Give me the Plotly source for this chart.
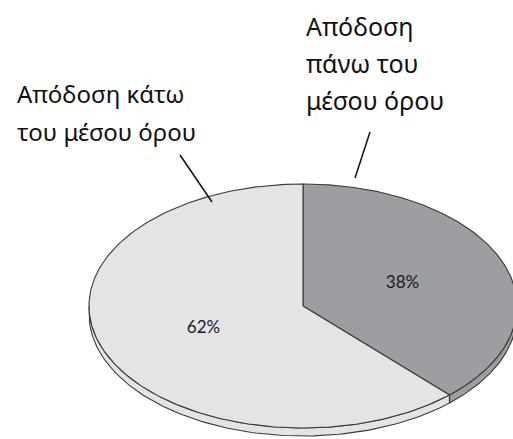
import numpy as np
import plotly.graph_objects as go

# Pie data: performance relative to the average
categories = ["Απόδοση πάνω του μέσου όρου", "Απόδοση κάτω του μέσου όρου"]
shares = [38, 62]
pct_labels = ["38%", "62%"]
slice_colors = ["#9d9ea2", "#e4e4e6"]

# Callout label text, one entry per line
label_above_lines = ["Απόδοση", "πάνω του", "μέσου όρου"]
label_below_lines = ["Απόδοση κάτω", "του μέσου όρου"]

# Tilted-disc geometry (pixel units of the canvas)
W, H = 513, 439
CX, CY = 303, 306
RX, RY = 214, 122
DEPTH = 8
EDGE = "#3a3a3a"


def ell(phi, r=1.0, dy=0.0):
    """Point on the tilted disc; phi measured clockwise from 12 o'clock."""
    return CX + RX * r * np.sin(phi), CY - RY * r * np.cos(phi) + dy


fracs = np.array(shares, dtype=float) / sum(shares)
bounds = np.concatenate([[0.0], np.cumsum(fracs)]) * 2 * np.pi

fig = go.Figure()

# Side wall: only the front half (pi/2 .. 3pi/2) is visible
for i in range(len(shares)):
    a0 = max(bounds[i], np.pi / 2)
    a1 = min(bounds[i + 1], 3 * np.pi / 2)
    if a1 <= a0:
        continue
    ph = np.linspace(a0, a1, 120)
    xt, yt = ell(ph)
    xb, yb = ell(ph[::-1], dy=DEPTH)
    fig.add_trace(go.Scatter(
        x=np.concatenate([xt, xb, xt[:1]]), y=np.concatenate([yt, yb, yt[:1]]),
        mode="lines", fill="toself", fillcolor=slice_colors[i],
        line=dict(color=EDGE, width=1.1), hoverinfo="skip"))

# Vertical seams on the wall where slices meet in front
for b in bounds[1:-1]:
    if np.pi / 2 < b < 3 * np.pi / 2:
        x0, y0 = ell(b)
        fig.add_trace(go.Scatter(x=[x0, x0], y=[y0, y0 + DEPTH], mode="lines",
                                 line=dict(color=EDGE, width=1.1), hoverinfo="skip"))

# Top face slices
for i in range(len(shares)):
    ph = np.linspace(bounds[i], bounds[i + 1], 240)
    xs, ys = ell(ph)
    fig.add_trace(go.Scatter(
        x=np.concatenate([[CX], xs, [CX]]), y=np.concatenate([[CY], ys, [CY]]),
        mode="lines", fill="toself", fillcolor=slice_colors[i],
        line=dict(color=EDGE, width=1.1), name=categories[i], hoverinfo="skip"))

# Percentage labels at the middle of each slice
mids = (bounds[:-1] + bounds[1:]) / 2
lx, ly = ell(mids, r=0.5)
fig.add_trace(go.Scatter(
    x=lx, y=ly, mode="text", text=pct_labels,
    textfont=dict(family="Lato", size=17, color="#1a1a1a"), hoverinfo="skip"))

annotations = []
for k, line in enumerate(label_above_lines):
    annotations.append(dict(x=304, y=26 + 37 * k, text=line, showarrow=False,
                            xanchor="left", yanchor="middle",
                            font=dict(family="Noto Sans", size=25, color="#111111")))
for k, line in enumerate(label_below_lines):
    annotations.append(dict(x=15, y=93 + 38 * k, text=line, showarrow=False,
                            xanchor="left", yanchor="middle",
                            font=dict(family="Noto Sans", size=24, color="#111111")))

shapes = [
    dict(type="line", x0=180, y0=155, x1=212, y1=202, line=dict(color="#111111", width=1.5)),
    dict(type="line", x0=370, y0=132, x1=355, y1=178, line=dict(color="#111111", width=1.5)),
]

fig.update_layout(
    width=W, height=H, margin=dict(l=0, r=0, t=0, b=0),
    paper_bgcolor="white", plot_bgcolor="white", showlegend=False,
    xaxis=dict(range=[0, W], visible=False, fixedrange=True),
    yaxis=dict(range=[H, 0], visible=False, fixedrange=True),
    annotations=annotations, shapes=shapes,
)

fig.write_html("out.html")
